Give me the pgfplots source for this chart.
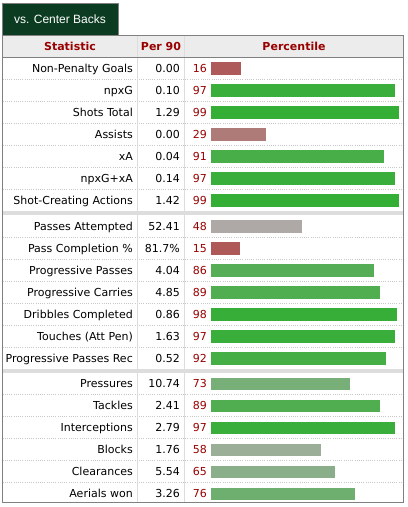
\documentclass[border=0pt]{standalone}
\usepackage{pgfplots}
\pgfplotsset{compat=1.18}
\usepackage{fontspec}
\setmainfont{DejaVu Sans}
\newfontfamily\tabfont{Liberation Sans}
\definecolor{tabgreen}{HTML}{0B3B20}
\definecolor{headbg}{HTML}{ECECEC}
\definecolor{headred}{HTML}{990000}
\definecolor{pctred}{HTML}{990000}
\definecolor{frame}{HTML}{808080}
\definecolor{sep}{HTML}{DDDDDD}
\definecolor{dots}{HTML}{C8C8C8}
\definecolor{cA}{HTML}{AE5A5A}
\definecolor{cB}{HTML}{3AAE3A}
\definecolor{cC}{HTML}{35AE35}
\definecolor{cD}{HTML}{AE7B79}
\definecolor{cE}{HTML}{48AE48}
\definecolor{cF}{HTML}{AEA8A7}
\definecolor{cG}{HTML}{AE5858}
\definecolor{cH}{HTML}{55AE55}
\definecolor{cI}{HTML}{50AE50}
\definecolor{cJ}{HTML}{37AE37}
\definecolor{cK}{HTML}{45AE45}
\definecolor{cL}{HTML}{78AE78}
\definecolor{cM}{HTML}{9BAE98}
\definecolor{cN}{HTML}{8AAE89}
\definecolor{cO}{HTML}{6EAE6E}
\newcommand{\statrow}[4]{%
  \node[anchor=east, text height=8bp, text depth=0bp, inner sep=0pt] at (axis cs:133,#1) {#2};
  \node[anchor=east, text height=8bp, text depth=0bp, inner sep=0pt] at (axis cs:180,#1) {#3};
  \node[anchor=east, text height=8bp, text depth=0bp, inner sep=0pt, text=pctred] at (axis cs:207,#1) {#4};
}
\newcommand{\pbar}[3]{%
  \addplot[xbar, bar width=12.5, bar shift=0pt, fill=#3, draw=none] coordinates {(#1,#2)};
}
\begin{document}
\fontsize{11bp}{13bp}\selectfont
\begin{tikzpicture}
\begin{axis}[anchor=north west, at={(0,0)}, scale only axis, width=408bp, height=507bp,
  xmin=0, xmax=408, ymin=0, ymax=507, y dir=reverse, hide axis, clip=false]
\path (axis cs:0,0) rectangle (axis cs:408,507);
% tab
\filldraw[fill=tabgreen, draw=frame, line width=1bp] (axis cs:2.5,3.5) rectangle (axis cs:118,35.5);
\node[text=white, font=\tabfont\fontsize{12bp}{14bp}\selectfont] at (axis cs:60,19) {vs. Center Backs};
% header
\fill[headbg] (axis cs:2.5,35.5) rectangle (axis cs:403.5,57);
% group separators
\fill[sep] (axis cs:2.5,211) rectangle (axis cs:403.5,214.5);
\fill[sep] (axis cs:2.5,369) rectangle (axis cs:403.5,372.5);
% dotted row lines
\pgfplotsinvokeforeach{79,101,123,145,167,189,237,259,281,303,325,347,394.5,416.5,438.5,460.5,482.5}{
  \draw[dots, line width=0.8bp, dash pattern=on 1bp off 1.2bp] (axis cs:2.5,#1) -- (axis cs:403.5,#1);
}
% column lines
\draw[sep, line width=1bp] (axis cs:137.5,35.5) -- (axis cs:137.5,502.5);
\draw[sep, line width=1bp] (axis cs:184.5,35.5) -- (axis cs:184.5,502.5);
% header line and frame
\draw[frame, line width=1bp] (axis cs:2.5,57) -- (axis cs:403.5,57);
\draw[frame, line width=1bp] (axis cs:2.5,35.5) rectangle (axis cs:403.5,502.5);
% header text
\node[text=headred, font=\bfseries] at (axis cs:70,46.5) {Statistic};
\node[text=headred, font=\bfseries] at (axis cs:161,46.5) {Per 90};
\node[text=headred, font=\bfseries] at (axis cs:294,46.5) {Percentile};
% rows
\statrow{68}{Non-Penalty Goals}{0.00}{16}
\statrow{90}{npxG}{0.10}{97}
\statrow{112}{Shots Total}{1.29}{99}
\statrow{134}{Assists}{0.00}{29}
\statrow{156}{xA}{0.04}{91}
\statrow{178}{npxG+xA}{0.14}{97}
\statrow{200}{Shot-Creating Actions}{1.42}{99}
\statrow{226}{Passes Attempted}{52.41}{48}
\statrow{248}{Pass Completion \%}{81.7\%}{15}
\statrow{270}{Progressive Passes}{4.04}{86}
\statrow{292}{Progressive Carries}{4.85}{89}
\statrow{314}{Dribbles Completed}{0.86}{98}
\statrow{336}{Touches (Att Pen)}{1.63}{97}
\statrow{358}{Progressive Passes Rec}{0.52}{92}
\statrow{383.5}{Pressures}{10.74}{73}
\statrow{405.5}{Tackles}{2.41}{89}
\statrow{427.5}{Interceptions}{2.79}{97}
\statrow{449.5}{Blocks}{1.76}{58}
\statrow{471.5}{Clearances}{5.54}{65}
\statrow{493.5}{Aerials won}{3.26}{76}
\end{axis}
\begin{axis}[anchor=north west, at={(211bp,0)}, scale only axis, width=190bp, height=507bp,
  xmin=0, xmax=100, ymin=0, ymax=507, y dir=reverse, hide axis, clip=false]
\pbar{16}{68.5}{cA}
\pbar{97}{90.5}{cB}
\pbar{99}{112.5}{cC}
\pbar{29}{134.5}{cD}
\pbar{91}{156.5}{cE}
\pbar{97}{178.5}{cB}
\pbar{99}{200.5}{cC}
\pbar{48}{226.5}{cF}
\pbar{15}{248.5}{cG}
\pbar{86}{270.5}{cH}
\pbar{89}{292.5}{cI}
\pbar{98}{314.5}{cJ}
\pbar{97}{336.5}{cB}
\pbar{92}{358.5}{cK}
\pbar{73}{384}{cL}
\pbar{89}{406}{cI}
\pbar{97}{428}{cB}
\pbar{58}{450}{cM}
\pbar{65}{472}{cN}
\pbar{76}{494}{cO}
\end{axis}
\end{tikzpicture}
\end{document}
